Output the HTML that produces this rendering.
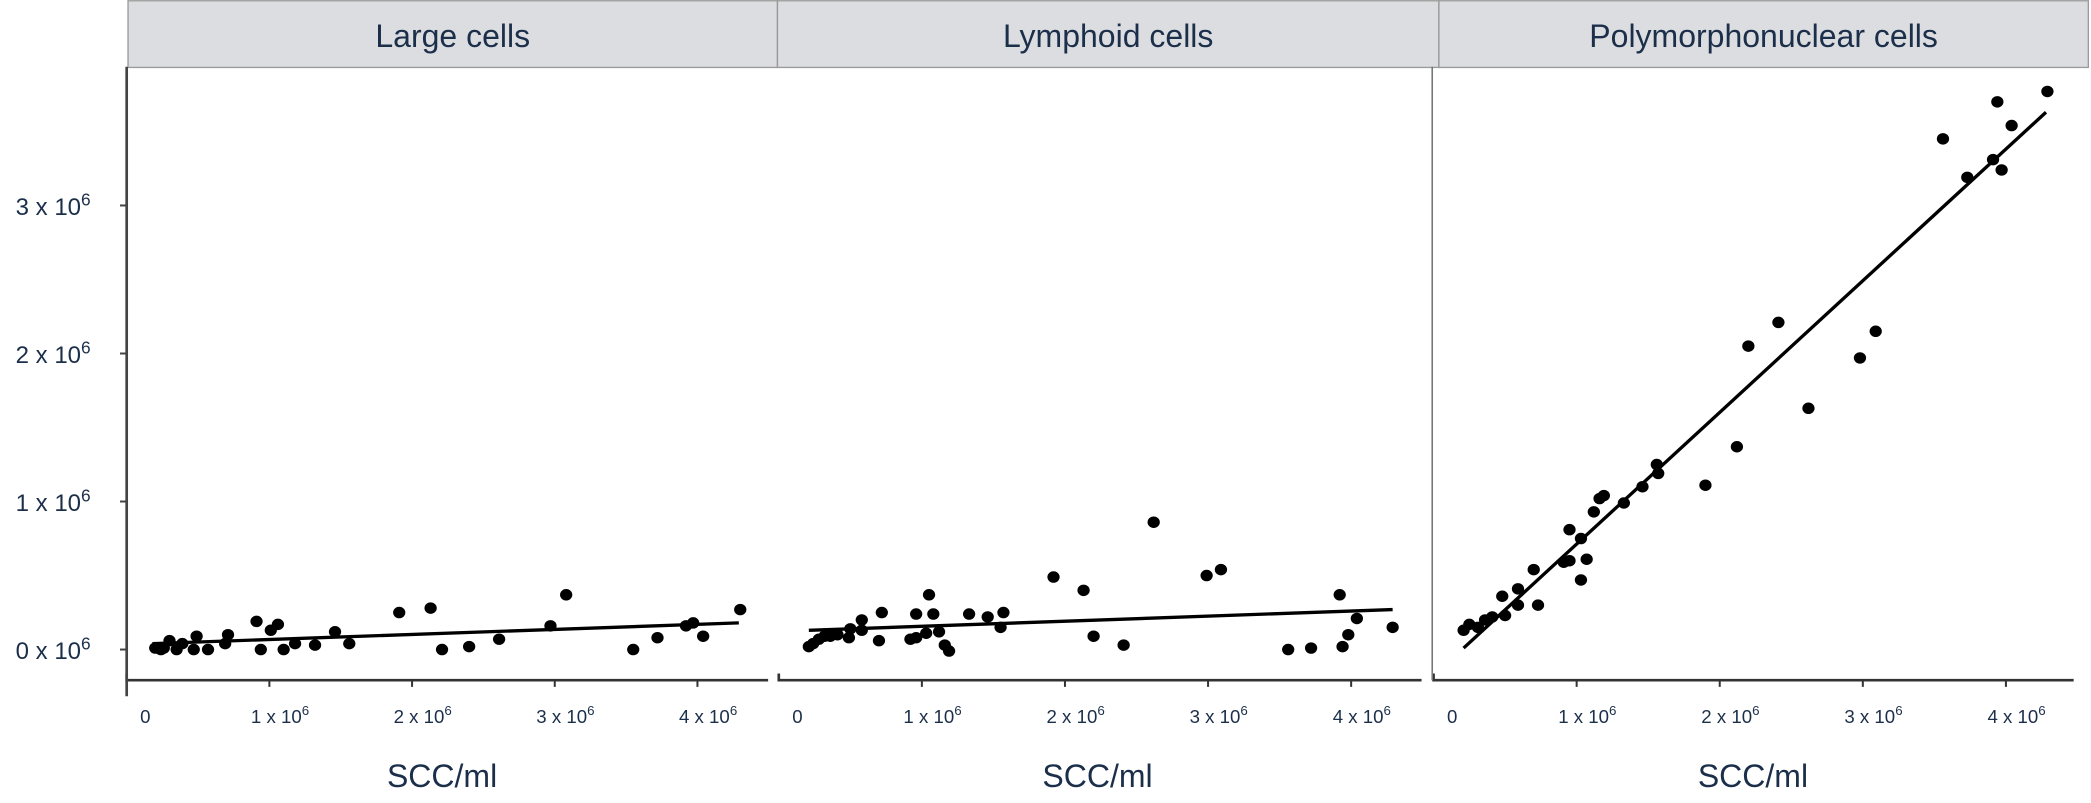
<!DOCTYPE html>
<html><head><meta charset="utf-8">
<style>
html,body{margin:0;padding:0;background:#fff;}
svg{display:block;}
text{font-family:"Liberation Sans",sans-serif;fill:#1c2f4a;}
</style></head>
<body>
<svg id="chart" width="2091" height="803" viewBox="0 0 1568 602" xmlns="http://www.w3.org/2000/svg">
<g id="g"></g>
</svg>
<script>
const panelTitles = ["Large cells","Lymphoid cells","Polymorphonuclear cells"];
const xTickLabels = ["0","1 x 10","2 x 10","3 x 10","4 x 10"];
const yTickLabels = ["0 x 10","1 x 10","2 x 10","3 x 10"];
const xTicks = [0,1,2,3,4];
const yTicks = [0,1,2,3];
const largeX = [0.20,0.24,0.26,0.30,0.35,0.39,0.47,0.49,0.57,0.69,0.71,0.91,0.94,1.01,1.06,1.10,1.18,1.32,1.46,1.56,1.91,2.13,2.21,2.40,2.61,2.97,3.08,3.55,3.72,3.92,3.97,4.04,4.30];
const largeY = [0.01,0.0,0.01,0.06,0.0,0.04,0.0,0.09,0.0,0.04,0.10,0.19,0.0,0.13,0.17,0.0,0.04,0.03,0.12,0.04,0.25,0.28,0.0,0.02,0.07,0.16,0.37,0.0,0.08,0.16,0.18,0.09,0.27];
const largeFit = [[0.18,0.04],[4.29,0.18]];
const lymphX = [0.21,0.24,0.28,0.32,0.36,0.41,0.49,0.50,0.58,0.58,0.70,0.72,0.92,0.96,0.96,1.03,1.05,1.08,1.12,1.16,1.19,1.33,1.46,1.55,1.57,1.92,2.13,2.20,2.41,2.62,2.99,3.09,3.56,3.72,3.92,3.94,3.98,4.04,4.29];
const lymphY = [0.02,0.04,0.07,0.09,0.09,0.10,0.08,0.14,0.20,0.13,0.06,0.25,0.07,0.08,0.24,0.11,0.37,0.24,0.12,0.03,-0.01,0.24,0.22,0.15,0.25,0.49,0.40,0.09,0.03,0.86,0.50,0.54,0.00,0.01,0.37,0.02,0.10,0.21,0.15];
const lymphFit = [[0.21,0.13],[4.29,0.27]];
const pmnX = [4.29,3.94,4.04,3.56,3.73,3.91,3.97,2.41,2.20,3.09,2.98,2.62,2.12,1.90,1.56,1.57,1.46,1.33,1.19,1.16,1.12,0.95,1.03,0.91,0.95,1.07,1.03,0.70,0.73,0.59,0.59,0.48,0.50,0.41,0.36,0.31,0.25,0.21];
const pmnY = [3.77,3.70,3.54,3.45,3.19,3.31,3.24,2.21,2.05,2.15,1.97,1.63,1.37,1.11,1.25,1.19,1.10,0.99,1.04,1.02,0.93,0.81,0.75,0.59,0.60,0.61,0.47,0.54,0.30,0.41,0.30,0.36,0.23,0.22,0.20,0.15,0.17,0.13];
const pmnFit = [[0.21,0.01],[4.28,3.63]];

const NS="http://www.w3.org/2000/svg";
const g=document.getElementById('g');
function el(tag,attrs,parent){const e=document.createElementNS(NS,tag);for(const k in attrs)e.setAttribute(k,attrs[k]);(parent||g).appendChild(e);return e;}
const Y0=487, YS=111;
function yPos(v){return Y0-v*YS;}
const panels=[
 {hx:96,hw:487,x0:95,xs:107,axL:95,axR:576,xs_:largeX,ys_:largeY,fit:largeFit,name:'large-cells'},
 {hx:583,hw:496,x0:584,xs:107.3,axL:584,axR:1066,xs_:lymphX,ys_:lymphY,fit:lymphFit,name:'lymphoid-cells'},
 {hx:1079,hw:487,x0:1075,xs:107.3,axL:1075,axR:1555,xs_:pmnX,ys_:pmnY,fit:pmnFit,name:'polymorphonuclear-cells'}
];
panels.forEach((p,i)=>{
  const grp=el('g',{});
  
  
  const hdr=el('rect',{x:p.hx,y:0.5,width:p.hw,height:50,fill:'#dcdde0',stroke:'#9a9a9a','stroke-width':1},grp);
  
  
  const t=el('text',{x:p.hx+p.hw/2,y:35,'text-anchor':'middle','font-size':24},grp);
  t.textContent=panelTitles[i];
  
  
  const xf=v=>p.x0+v*p.xs;
  const ax=el('path',{d:`M${p.axL} 505 L${p.axL} 510 L${p.axR} 510`,stroke:'#333',fill:'none','stroke-width':2},grp);
  
  
  xTicks.forEach((v,k)=>{
    if(v>0) el('line',{x1:xf(v),x2:xf(v),y1:510,y2:515,stroke:'#333','stroke-width':1.5},grp);
    const lx = v===0 ? xf(0)+14 : xf(v)+8;
    const tt=el('text',{x:lx,y:542,'text-anchor':'middle','font-size':14},grp);
    tt.textContent=xTickLabels[k];
    
    
    if(v>0){const s=el('tspan',{dy:-6,'font-size':10},tt);s.textContent='6';}
  });
  const xt=el('text',{x:p.hx+p.hw/2-8,y:590,'text-anchor':'middle','font-size':24},grp);
  xt.textContent='SCC/ml';
  
  
  if(i===2){
    const yl=el('line',{x1:1074,x2:1074,y1:50,y2:510,stroke:'#777','stroke-width':1.2},grp);
    
    
  }
  const fl=el('line',{x1:xf(p.fit[0][0]),y1:yPos(p.fit[0][1]),x2:xf(p.fit[1][0]),y2:yPos(p.fit[1][1]),stroke:'#000','stroke-width':2.5},grp);
  
  
  p.xs_.forEach((xv,k)=>{
    const c=el('ellipse',{cx:xf(xv),cy:yPos(p.ys_[k]),rx:4.6,ry:4.3,fill:'#000'},grp);
    
    
  });
});
// y axis
const ya=el('line',{x1:95,x2:95,y1:50,y2:522,stroke:'#444','stroke-width':2});


yTicks.forEach((v,k)=>{
  el('line',{x1:90,x2:95,y1:yPos(v),y2:yPos(v),stroke:'#444','stroke-width':1.5});
  const tt=el('text',{x:68,y:yPos(v)+7,'text-anchor':'end','font-size':18});
  tt.textContent=yTickLabels[k];
  
  
  const s=el('tspan',{dy:-7,'font-size':13},tt);s.textContent='6';
});
</script>
</body></html>
